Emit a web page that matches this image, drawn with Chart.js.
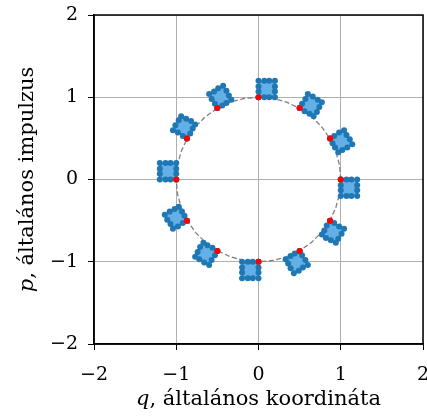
<!DOCTYPE html>
<html>
<head>
<meta charset="utf-8">
<script src="https://cdn.jsdelivr.net/npm/chart.js@4.4.1/dist/chart.umd.min.js"></script>
<style>
  body { margin: 0; background: #fff; }
  #wrap { width: 427px; height: 419px; }
</style>
</head>
<body>
<div id="wrap"><canvas id="phaseChart" width="427" height="419"></canvas></div>
<script>
"use strict"

// axis ticks
var tickValues = [-2, -1, 0, 1, 2];

// red points on the energy circle, one for each time step
var redQ = [0, 0.5, 0.87, 1, 0.87, 0.5, 0, -0.5, -0.87, -1, -0.87, -0.5];
var redP = [1, 0.87, 0.5, 0, -0.5, -0.87, -1, -0.87, -0.5, 0, 0.5, 0.87];

// dashed circle, every 10 degrees
var circleQ = [1, 0.985, 0.94, 0.866, 0.766, 0.643, 0.5, 0.342, 0.174, 0, -0.174, -0.342, -0.5, -0.643, -0.766, -0.866, -0.94, -0.985,
               -1, -0.985, -0.94, -0.866, -0.766, -0.643, -0.5, -0.342, -0.174, 0, 0.174, 0.342, 0.5, 0.643, 0.766, 0.866, 0.94, 0.985, 1];
var circleP = [0, 0.174, 0.342, 0.5, 0.643, 0.766, 0.866, 0.94, 0.985, 1, 0.985, 0.94, 0.866, 0.766, 0.643, 0.5, 0.342, 0.174,
               0, -0.174, -0.342, -0.5, -0.643, -0.766, -0.866, -0.94, -0.985, -1, -0.985, -0.94, -0.866, -0.766, -0.643, -0.5, -0.342, -0.174, 0];

// the small phase-space squares (12 edge points each)
var squareQ = [
    [0, 0.07, 0.13, 0.2, 0.2, 0.2, 0.2, 0.13, 0.07, 0, 0, 0],
    [0.5, 0.56, 0.62, 0.67, 0.71, 0.74, 0.77, 0.72, 0.66, 0.6, 0.57, 0.53],
    [0.87, 0.9, 0.93, 0.97, 1.02, 1.08, 1.14, 1.11, 1.07, 1.04, 0.98, 0.92],
    [1, 1, 1, 1, 1.07, 1.13, 1.2, 1.2, 1.2, 1.2, 1.13, 1.07],
    [0.87, 0.83, 0.8, 0.77, 0.82, 0.88, 0.94, 0.97, 1.01, 1.04, 0.98, 0.92],
    [0.5, 0.44, 0.39, 0.33, 0.36, 0.39, 0.43, 0.49, 0.54, 0.6, 0.57, 0.53],
    [0, -0.07, -0.13, -0.2, -0.2, -0.2, -0.2, -0.13, -0.07, 0, 0, 0],
    [-0.5, -0.56, -0.62, -0.67, -0.71, -0.74, -0.77, -0.72, -0.66, -0.6, -0.57, -0.53],
    [-0.87, -0.9, -0.93, -0.97, -1.02, -1.08, -1.14, -1.11, -1.07, -1.04, -0.98, -0.92],
    [-1, -1, -1, -1, -1.07, -1.13, -1.2, -1.2, -1.2, -1.2, -1.13, -1.07],
    [-0.87, -0.83, -0.8, -0.77, -0.82, -0.88, -0.94, -0.97, -1.01, -1.04, -0.98, -0.92],
    [-0.5, -0.44, -0.39, -0.33, -0.36, -0.39, -0.43, -0.49, -0.54, -0.6, -0.57, -0.53]
];
var squareP = [
    [1, 1, 1, 1, 1.07, 1.13, 1.2, 1.2, 1.2, 1.2, 1.13, 1.07],
    [0.87, 0.83, 0.8, 0.77, 0.82, 0.88, 0.94, 0.97, 1.01, 1.04, 0.98, 0.92],
    [0.5, 0.44, 0.39, 0.33, 0.36, 0.39, 0.43, 0.49, 0.54, 0.6, 0.57, 0.53],
    [0, -0.07, -0.13, -0.2, -0.2, -0.2, -0.2, -0.13, -0.07, 0, 0, 0],
    [-0.5, -0.56, -0.62, -0.67, -0.71, -0.74, -0.77, -0.72, -0.66, -0.6, -0.57, -0.53],
    [-0.87, -0.9, -0.93, -0.97, -1.02, -1.08, -1.14, -1.11, -1.07, -1.04, -0.98, -0.92],
    [-1, -1, -1, -1, -1.07, -1.13, -1.2, -1.2, -1.2, -1.2, -1.13, -1.07],
    [-0.87, -0.83, -0.8, -0.77, -0.82, -0.88, -0.94, -0.97, -1.01, -1.04, -0.98, -0.92],
    [-0.5, -0.44, -0.39, -0.33, -0.36, -0.39, -0.43, -0.49, -0.54, -0.6, -0.57, -0.53],
    [0, 0.07, 0.13, 0.2, 0.2, 0.2, 0.2, 0.13, 0.07, 0, 0, 0],
    [0.5, 0.56, 0.62, 0.67, 0.71, 0.74, 0.77, 0.72, 0.66, 0.6, 0.57, 0.53],
    [0.87, 0.9, 0.93, 0.97, 1.02, 1.08, 1.14, 1.11, 1.07, 1.04, 0.98, 0.92]
];

var xTitle = ["q", ", általános koordináta"];
var yTitle = ["p", ", általános impulzus"];

var serif = '"DejaVu Serif", "Liberation Serif", serif';

function toPoints(qs, ps) {
    return qs.map(function(q, i) { return { x: q, y: ps[i] }; });
}

var datasets = [];

datasets.push({
    label: 'red',
    data: toPoints(redQ, redP),
    showLine: false,
    pointRadius: 3,
    pointBackgroundColor: '#ff0000',
    pointBorderWidth: 0,
    order: 0
});

squareQ.forEach(function(qs, k) {
    var pts = toPoints(qs, squareP[k]);
    pts.push({ x: qs[0], y: squareP[k][0] }); // close the square
    datasets.push({
        label: 'square ' + k,
        data: pts,
        showLine: true,
        fill: 'shape',
        backgroundColor: '#62b0e6',
        borderColor: '#1f77b4',
        borderWidth: 1.2,
        tension: 0,
        pointRadius: 3,
        pointBackgroundColor: '#1f77b4',
        pointBorderWidth: 0,
        order: 1
    });
});

datasets.push({
    label: 'circle',
    data: toPoints(circleQ, circleP),
    showLine: true,
    fill: false,
    borderColor: '#808080',
    borderWidth: 1.3,
    borderDash: [5, 2.5],
    pointRadius: 0,
    tension: 0,
    order: 2
});

// black box round the plot area
var framePlugin = {
    id: 'frame',
    afterDatasetsDraw: function(chart) {
        var a = chart.chartArea, ctx = chart.ctx;
        ctx.save();
        ctx.strokeStyle = '#000';
        ctx.lineWidth = 1.5;
        ctx.strokeRect(a.left, a.top, a.right - a.left, a.bottom - a.top);
        ctx.restore();
    }
};

// axis titles with italic variable name
function drawTitle(ctx, parts, size) {
    ctx.font = 'italic ' + size + 'px ' + serif;
    var w0 = ctx.measureText(parts[0]).width;
    ctx.font = size + 'px ' + serif;
    var w1 = ctx.measureText(parts[1]).width;
    var x = -(w0 + w1) / 2;
    ctx.textAlign = 'left';
    ctx.textBaseline = 'alphabetic';
    ctx.font = 'italic ' + size + 'px ' + serif;
    ctx.fillText(parts[0], x, 0);
    ctx.font = size + 'px ' + serif;
    ctx.fillText(parts[1], x + w0, 0);
}

var titlePlugin = {
    id: 'axisTitles',
    afterDraw: function(chart) {
        var a = chart.chartArea, ctx = chart.ctx;
        ctx.save();
        ctx.fillStyle = '#000';
        ctx.translate((a.left + a.right) / 2, 405);
        drawTitle(ctx, xTitle, 21);
        ctx.restore();

        ctx.save();
        ctx.fillStyle = '#000';
        ctx.translate(33, (a.top + a.bottom) / 2);
        ctx.rotate(-Math.PI / 2);
        drawTitle(ctx, yTitle, 21);
        ctx.restore();
    }
};

function tickLabel(value) {
    return tickValues.indexOf(value) >= 0 ? String(value).replace('-', '\u2212') : '';
}

new Chart(document.getElementById('phaseChart'), {
    type: 'scatter',
    data: { datasets: datasets },
    options: {
        responsive: false,
        animation: false,
        layout: { padding: { top: 15, right: 3, left: 0, bottom: 0 } },
        plugins: {
            legend: { display: false },
            tooltip: { enabled: false }
        },
        scales: {
            x: {
                type: 'linear',
                min: -2,
                max: 2,
                afterFit: function(scale) {
                    scale.height = 75;
                    scale.paddingLeft = 0;
                    scale.paddingRight = 0;
                },
                ticks: {
                    stepSize: 1,
                    color: '#000',
                    padding: 14,
                    maxRotation: 0,
                    font: { family: serif, size: 19 },
                    callback: tickLabel
                },
                grid: { color: '#b0b0b0', lineWidth: 1, tickColor: '#000', tickLength: 6 },
                border: { color: '#000', width: 1.5 }
            },
            y: {
                type: 'linear',
                min: -2,
                max: 2,
                afterFit: function(scale) {
                    scale.width = 94;
                    scale.paddingTop = 0;
                    scale.paddingBottom = 0;
                },
                ticks: {
                    stepSize: 1,
                    color: '#000',
                    padding: 10,
                    font: { family: serif, size: 19 },
                    callback: tickLabel
                },
                grid: { color: '#b0b0b0', lineWidth: 1, tickColor: '#000', tickLength: 6 },
                border: { color: '#000', width: 1.5 }
            }
        }
    },
    plugins: [framePlugin, titlePlugin]
});
</script>
</body>
</html>
